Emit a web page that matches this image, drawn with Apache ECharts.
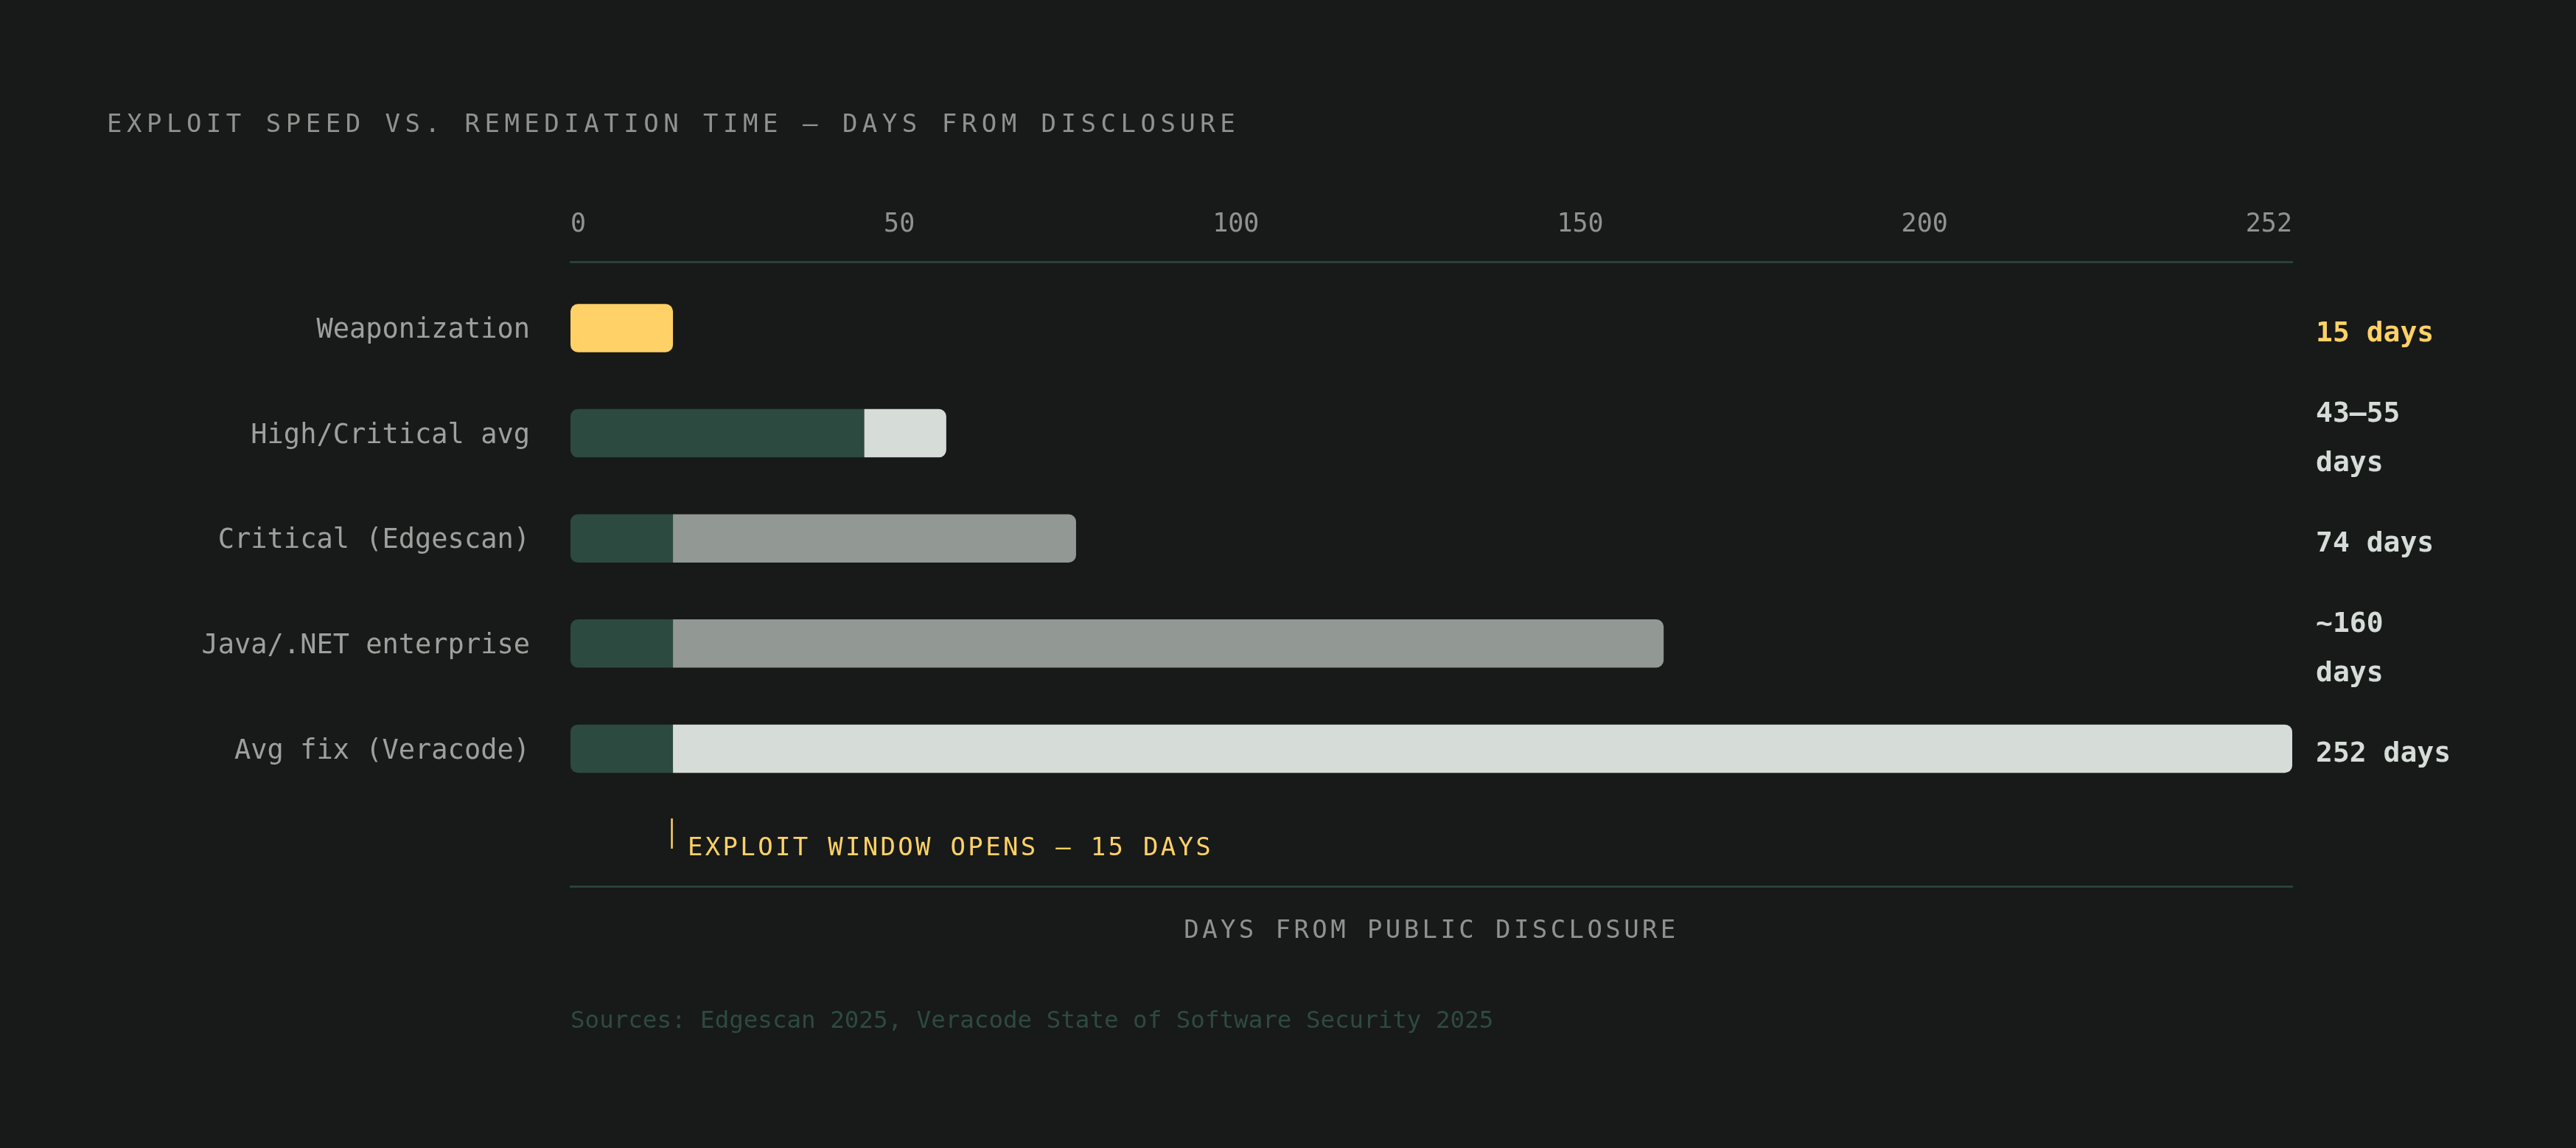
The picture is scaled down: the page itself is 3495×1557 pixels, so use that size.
<!DOCTYPE html>
<html>
<head>
<meta charset="utf-8">
<script src="https://cdn.jsdelivr.net/npm/echarts@6/dist/echarts.min.js"></script>
<style>
  html, body { margin: 0; padding: 0; background: #171a19; }
  #chart { width: 3495px; height: 1557px; }
</style>
</head>
<body>
<div id="chart"></div>
<script>
// ---------------- data ----------------
const titleText = 'EXPLOIT SPEED VS. REMEDIATION TIME — DAYS FROM DISCLOSURE';
const axisNameText = 'DAYS FROM PUBLIC DISCLOSURE';
const annotationText = 'EXPLOIT WINDOW OPENS — 15 DAYS';
const sourceText = 'Sources: Edgescan 2025, Veracode State of Software Security 2025';

const categories = ['Weaponization', 'High/Critical avg', 'Critical (Edgescan)', 'Java/.NET enterprise', 'Avg fix (Veracode)'];
const firstSegmentEnd = [15, 43, 15, 15, 15];   // days
const totalDays = [15, 55, 74, 160, 252];        // days
const valueLabels = ['15 days', '43–55 days', '74 days', '~160 days', '252 days'];
const tickLabels = ['0', '50', '100', '150', '200', '252'];
const axisMax = 252;
const exploitWindow = 15;

// ---------------- styles ----------------
const BG = '#171a19';
const YELLOW = '#ffd166';
const DARK = '#2d4a40';
const LIGHT = '#d6dcd8';
const MID = '#929894';
const MUTED = '#8e9390';
const LABEL = '#9ca19e';
const FONT = "'DejaVu Sans Mono', 'Liberation Mono', monospace";
const firstColors = [YELLOW, DARK, DARK, DARK, DARK];
const restColors = [null, LIGHT, MID, MID, LIGHT];

// letter spacing (canvas letterSpacing) for the spaced caption texts only
const LETTER_SPACING = {};
LETTER_SPACING[titleText] = 6.5;
LETTER_SPACING[axisNameText] = 4.4;
LETTER_SPACING[annotationText] = 3.3;
(function () {
  const proto = CanvasRenderingContext2D.prototype;
  const orig = proto.fillText;
  proto.fillText = function (t, x, y, w) {
    const ls = LETTER_SPACING[t];
    if (ls && 'letterSpacing' in this) {
      const f = this.font;
      this.save();
      this.letterSpacing = ls + 'px';
      this.font = f;
      if (w === undefined) orig.call(this, t, x, y); else orig.call(this, t, x, y, w);
      this.restore();
      this.letterSpacing = '0px';
      this.font = f;
    } else {
      if ('letterSpacing' in this && this.letterSpacing !== '0px') {
        const f = this.font;
        this.letterSpacing = '0px';
        this.font = f;
      }
      if (w === undefined) orig.call(this, t, x, y); else orig.call(this, t, x, y, w);
    }
  };
})();

// ---------------- build ----------------
const rowCats = categories.concat(['']);          // extra row for the annotation
const rowValueLabels = valueLabels.concat(['']);
const tickStep = axisMax / (tickLabels.length - 1);

const firstData = firstSegmentEnd.map((v, i) => ({
  value: v,
  itemStyle: {
    color: firstColors[i],
    borderRadius: totalDays[i] > v ? [10, 0, 0, 10] : [10, 10, 10, 10]
  }
}));
const restData = totalDays.map((t, i) => {
  const d = t - firstSegmentEnd[i];
  if (d <= 0) return null;
  return { value: d, itemStyle: { color: restColors[i], borderRadius: [0, 10, 10, 0] } };
});

const GRID_L = 774, GRID_R = 385, GRID_T = 373.7, GRID_B = 327.7;
const hiddenX = (g) => ({ type: 'value', gridIndex: g, min: 0, max: axisMax, show: false });

const chart = echarts.init(document.getElementById('chart'), null, { renderer: 'canvas', devicePixelRatio: 1 });

chart.setOption({
  backgroundColor: BG,
  animation: false,
  tooltip: { show: false },
  title: [
    {
      text: titleText, left: 145, top: 153, padding: 0,
      textStyle: { fontFamily: FONT, fontSize: 34, fontWeight: 'normal', color: MUTED, lineHeight: 34 }
    },
    {
      text: sourceText, left: 774, top: 1370, padding: 0,
      textStyle: { fontFamily: FONT, fontSize: 32.5, fontWeight: 'normal', color: '#2e4a40', lineHeight: 32 }
    }
  ],
  grid: [
    { left: GRID_L, right: GRID_R, top: GRID_T, bottom: GRID_B, containLabel: false, outerBoundsMode: 'none' },
    { left: GRID_L, right: GRID_R, top: GRID_T + 3.5, bottom: GRID_B - 3.5, containLabel: false, outerBoundsMode: 'none' },
    { left: GRID_L, right: GRID_R, top: GRID_T + 8, bottom: GRID_B - 8, containLabel: false, outerBoundsMode: 'none' }
  ],
  xAxis: [
    {
      type: 'value', gridIndex: 0, position: 'top', min: 0, max: axisMax, interval: tickStep, offset: 18.2,
      axisLine: { show: true, lineStyle: { color: DARK, width: 2.5 } },
      axisTick: { show: false },
      splitLine: { show: false },
      axisLabel: {
        show: true, margin: 33, fontFamily: FONT, fontSize: 35, color: MUTED, lineHeight: 35,
        align: 'right', alignMinLabel: 'left', alignMaxLabel: 'right',
        showMinLabel: true, showMaxLabel: true, hideOverlap: false,
        formatter: (v) => tickLabels[Math.round(v / tickStep)]
      }
    },
    {
      type: 'value', gridIndex: 0, position: 'bottom', min: 0, max: axisMax, offset: -27.3,
      axisLine: { show: true, lineStyle: { color: DARK, width: 2.5 } },
      axisTick: { show: false }, splitLine: { show: false }, axisLabel: { show: false },
      name: axisNameText, nameLocation: 'middle', nameGap: 44,
      nameTextStyle: { fontFamily: FONT, fontSize: 34, color: MUTED, lineHeight: 34 }
    },
    hiddenX(1),
    hiddenX(2)
  ],
  yAxis: [
    {
      type: 'category', gridIndex: 0, data: rowCats, inverse: true, position: 'left',
      axisLine: { show: false }, axisTick: { show: false }, splitLine: { show: false },
      axisLabel: { show: false }
    },
    {
      type: 'category', gridIndex: 1, data: rowCats, inverse: true, position: 'left',
      axisLine: { show: false }, axisTick: { show: false }, splitLine: { show: false },
      axisLabel: { margin: 55, fontFamily: FONT, fontSize: 37, color: LABEL }
    },
    {
      type: 'category', gridIndex: 2, data: rowValueLabels, inverse: true, position: 'right',
      axisLine: { show: false }, axisTick: { show: false }, splitLine: { show: false },
      axisLabel: {
        margin: 32, fontFamily: FONT, fontSize: 38, fontWeight: 'bold', lineHeight: 67,
        width: 195, overflow: 'break', align: 'left',
        color: (v, i) => (i === 0 ? YELLOW : LIGHT)
      }
    }
  ],
  series: [
    {
      type: 'bar', stack: 'days', data: firstData, barWidth: 65.5, xAxisIndex: 0, yAxisIndex: 0, silent: true
    },
    {
      type: 'bar', stack: 'days', data: restData, barWidth: 65.5, xAxisIndex: 0, yAxisIndex: 0, silent: true
    },
    {
      type: 'custom', xAxisIndex: 0, yAxisIndex: 0, silent: true, clip: false,
      data: [[exploitWindow, categories.length]],
      renderItem: function (params, api) {
        const p = api.coord([api.value(0), api.value(1)]);
        return {
          type: 'group',
          children: [
            {
              type: 'line',
              shape: { x1: p[0] - 1.5, y1: p[1] - 48, x2: p[0] - 1.5, y2: p[1] - 7 },
              style: { stroke: YELLOW, lineWidth: 2.5 }
            },
            {
              type: 'text', x: p[0] + 20, y: p[1] - 7,
              style: {
                text: annotationText, fill: YELLOW,
                font: "34px 'DejaVu Sans Mono', 'Liberation Mono', monospace",
                align: 'left', verticalAlign: 'middle',
                textAlign: 'left', textVerticalAlign: 'middle'
              }
            }
          ]
        };
      }
    }
  ]
});
</script>
</body>
</html>
